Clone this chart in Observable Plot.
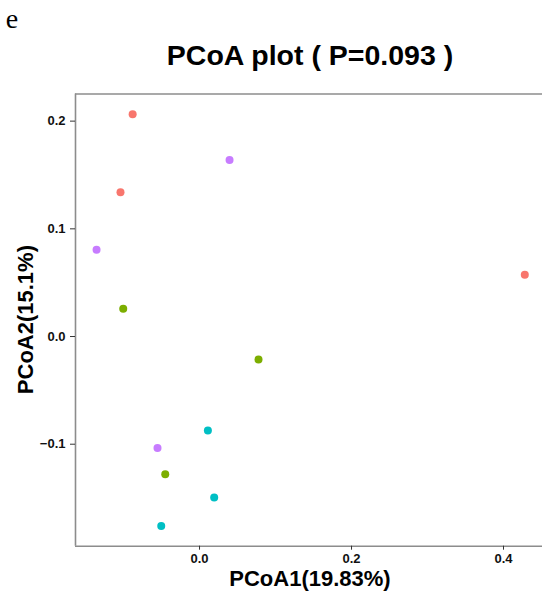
<!DOCTYPE html>
<html><head><meta charset="utf-8">
<script src="https://cdn.jsdelivr.net/npm/d3@7"></script>
<script src="https://cdn.jsdelivr.net/npm/@observablehq/plot@0.6"></script>
<style>
body{margin:0;background:#fff;}
#chart{width:542px;height:593px;overflow:hidden;}
</style></head><body>
<div id="chart"></div>
<script>
const groups = ["A","A","A","B","B","B","C","C","C","D","D","D"];
const pc1 = [-0.088,-0.104,0.428, 0.0395,-0.1355,-0.0553, -0.1004,0.0776,-0.0451, 0.011,0.0193,-0.0504];
const pc2 = [0.2064,0.134,0.0573, 0.164,0.0805,-0.1034, 0.0257,-0.0214,-0.128, -0.0873,-0.1495,-0.176];
const groupNames = ["A","B","C","D"];
const groupColors = ["#F8766D","#C77CFF","#7CAE00","#00BFC4"];
const xTicks = [0.0, 0.2, 0.4];
const yTicks = [-0.1, 0.0, 0.1, 0.2];
const xDomain = [-0.1632, 0.4513];
const yDomain = [-0.1947, 0.2252];
const title = "PCoA plot ( P=0.093 )";
const xTitle = "PCoA1(19.83%)";
const yTitle = "PCoA2(15.1%)";
const panelLetter = "e";

const data = pc1.map((x, i) => ({x, y: pc2[i], g: groups[i]}));
const W = 542, H = 593;
const mL = 75, mT = 93.5, mR = 0, mB = 47.3;

const plot = Plot.plot({
  width: W, height: H,
  marginLeft: mL, marginTop: mT, marginRight: mR, marginBottom: mB,
  style: {fontFamily: "'Liberation Sans', Arial, sans-serif", fontSize: "13px", fontWeight: "bold", color: "#000", background: "#fff"},
  x: {domain: xDomain},
  y: {domain: yDomain},
  color: {domain: groupNames, range: groupColors},
  marks: [
    Plot.ruleX([xDomain[0]], {stroke: "#8c8c8c", strokeWidth: 1.6}),
    Plot.ruleY(yDomain, {stroke: "#8c8c8c", strokeWidth: 1.6}),
    Plot.axisX(xTicks, {tickSize: 4, tickPadding: 4, label: null, tickFormat: d3.format(".1f"), stroke: "#333", fill: "#111"}),
    Plot.axisY(yTicks, {tickSize: 5, tickPadding: 5, label: null, tickFormat: d => d3.format(".1f")(d).replace("-", "\u2212"), stroke: "#333", fill: "#111"}),
    Plot.dot(data, {x: "x", y: "y", fill: "g", r: 4})
  ]
});
document.getElementById("chart").appendChild(plot);

const svg = d3.select(plot);
svg.append("text").attr("x", 12).attr("y", 28)
  .attr("font-family", "'Liberation Serif', 'Times New Roman', serif").attr("font-weight", "normal")
  .attr("font-size", 28).attr("fill", "#000").text(panelLetter);
svg.append("text").attr("x", 310).attr("y", 65).attr("text-anchor", "middle")
  .attr("font-size", 28.5).attr("font-weight", "bold").attr("fill", "#000").text(title);
svg.append("text").attr("x", 310).attr("y", 586).attr("text-anchor", "middle")
  .attr("font-size", 22).attr("font-weight", "bold").attr("fill", "#000").text(xTitle);
svg.append("text").attr("transform", `translate(33,${(mT + H - mB) / 2}) rotate(-90)`).attr("text-anchor", "middle")
  .attr("font-size", 22).attr("font-weight", "bold").attr("fill", "#000").text(yTitle);
</script>
</body></html>
